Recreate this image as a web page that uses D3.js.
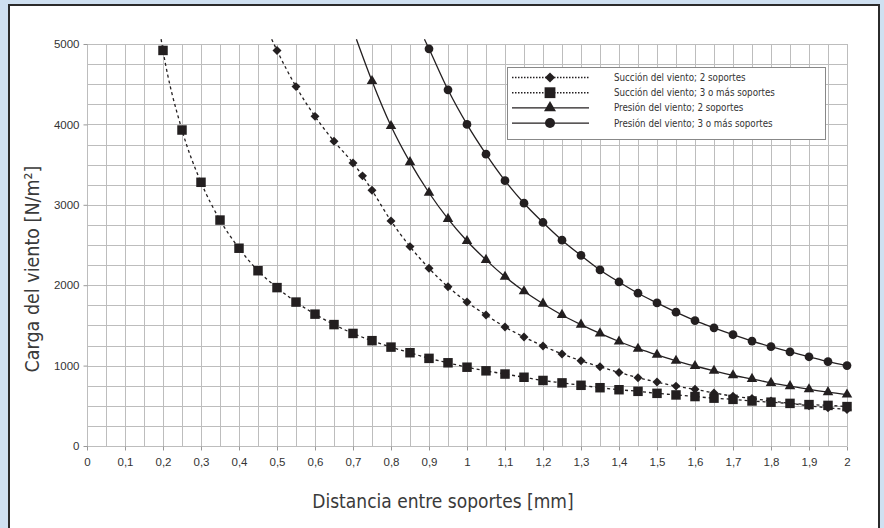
<!DOCTYPE html>
<html lang="es">
<head>
<meta charset="utf-8">
<script src="https://d3js.org/d3.v7.min.js"></script>
<style>
  body { margin: 0; background: #cfe0f1; }
  svg { display: block; }
  .tick-label { font-family: "Liberation Sans", Arial, sans-serif; font-size: 11.5px; fill: #333; }
  .axis-title { font-family: "Liberation Sans Narrow", "DejaVu Sans Condensed", sans-serif; fill: #3a3a3a; }
  .legend-text { font-family: "Liberation Sans Narrow", "DejaVu Sans Condensed", sans-serif; font-size: 9.7px; fill: #333; }
</style>
</head>
<body>
<svg id="chart" width="884" height="528"></svg>
<script>
// x positions (m) and wind load (N/m2)
var sqX = [0.2,0.25,0.3,0.35,0.4,0.45,0.5,0.55,0.6,0.65,0.7,0.75,0.8,0.85,0.9,0.95,1,1.05,1.1,1.15,1.2,1.25,1.3,1.35,1.4,1.45,1.5,1.55,1.6,1.65,1.7,1.75,1.8,1.85,1.9,1.95,2];
var sqY = [4920,3930,3280,2810,2460,2180,1970,1790,1640,1510,1400,1310,1230,1160,1090,1035,980,935,895,855,815,785,755,725,700,680,655,635,615,595,580,560,545,530,515,505,490];

var diaX = [0.5,0.55,0.6,0.65,0.7,0.725,0.75,0.8,0.85,0.9,0.95,1,1.05,1.1,1.15,1.2,1.25,1.3,1.35,1.4,1.45,1.5,1.55,1.6,1.65,1.7,1.75,1.8,1.85,1.9,1.95,2];
var diaY = [4920,4470,4100,3790,3520,3360,3180,2800,2480,2210,1980,1790,1630,1480,1355,1245,1145,1060,985,915,850,795,745,705,660,620,590,560,530,500,475,455];

var triX = [0.75,0.8,0.85,0.9,0.95,1,1.05,1.1,1.15,1.2,1.25,1.3,1.35,1.4,1.45,1.5,1.55,1.6,1.65,1.7,1.75,1.8,1.85,1.9,1.95,2];
var triY = [4540,3980,3530,3150,2825,2550,2315,2105,1925,1770,1630,1510,1400,1300,1210,1135,1060,995,935,880,835,785,745,705,670,640];

var cirX = [0.9,0.95,1,1.05,1.1,1.15,1.2,1.25,1.3,1.35,1.4,1.45,1.5,1.55,1.6,1.65,1.7,1.75,1.8,1.85,1.9,1.95,2];
var cirY = [4940,4430,4000,3630,3300,3020,2780,2560,2370,2190,2040,1900,1780,1665,1560,1470,1385,1305,1235,1170,1110,1050,1000];

// where each curve leaves the top of the grid
var topX = [0.486, 0.195, 0.709, 0.888];
var topY = 5060;

var seriesNames = ["Succión del viento; 2 soportes", "Succión del viento; 3 o más soportes",
                   "Presión del viento; 2 soportes", "Presión del viento; 3 o más soportes"];
var xTicks = [0,0.1,0.2,0.3,0.4,0.5,0.6,0.7,0.8,0.9,1,1.1,1.2,1.3,1.4,1.5,1.6,1.7,1.8,1.9,2];
var yTicks = [0,1000,2000,3000,4000,5000];

(function() {
  var svg = d3.select("#chart");
  var ink = "#231f20";

  // white panel with dark frame
  svg.append("rect").attr("x", 9).attr("y", 5).attr("width", 870).attr("height", 540)
    .attr("fill", "#fff").attr("stroke", "#2b2b2b").attr("stroke-width", 2);

  var pl = 87, pr = 847, pt = 44, pb = 446;
  var x = d3.scaleLinear().domain([0, 2]).range([pl, pr]);
  var y = d3.scaleLinear().domain([0, 5000]).range([pb, pt]);

  // grid
  var grid = svg.append("g").attr("stroke", "#bdbdbd").attr("stroke-width", 1);
  d3.range(0, 41).forEach(function(i) {
    var gx = Math.round(x(i * 0.05)) + 0.5;
    grid.append("line").attr("x1", gx).attr("x2", gx).attr("y1", pt).attr("y2", pb);
  });
  d3.range(0, 21).forEach(function(i) {
    var gy = Math.round(y(i * 250)) + 0.5;
    grid.append("line").attr("x1", pl).attr("x2", pr).attr("y1", gy).attr("y2", gy);
  });

  // axes
  var fmt = function(d) { return String(d).replace(".", ","); };
  var xAxis = svg.append("g").attr("transform", "translate(0," + (pb + 0.5) + ")")
    .call(d3.axisBottom(x).tickValues(xTicks).tickFormat(fmt).tickSize(4).tickPadding(7));
  var yAxis = svg.append("g").attr("transform", "translate(" + (pl + 0.5) + ",0)")
    .call(d3.axisLeft(y).tickValues(yTicks).tickFormat(d3.format("d")).tickSize(4).tickPadding(4));
  [xAxis, yAxis].forEach(function(a) {
    a.attr("font-family", null).attr("font-size", null);
    a.select(".domain").remove();
    a.selectAll(".tick line").attr("stroke", "#999");
    a.selectAll(".tick text").attr("class", "tick-label").attr("fill", null);
  });

  // axis titles
  svg.append("text").attr("class", "axis-title").attr("x", 443).attr("y", 508)
    .attr("text-anchor", "middle").style("font-size", "19px")
    .text("Distancia entre soportes [mm]");
  svg.append("text").attr("class", "axis-title")
    .attr("transform", "translate(39,269) rotate(-90)")
    .attr("text-anchor", "middle").style("font-size", "19.5px")
    .text("Carga del viento [N/m²]");

  // series, in legend order
  var series = [
    { xs: diaX, ys: diaY, dash: "3,3", sym: d3.symbolSquare, size: 40, rot: 45 },
    { xs: sqX, ys: sqY, dash: "3,3", sym: d3.symbolSquare, size: 90, rot: 0 },
    { xs: triX, ys: triY, dash: null, sym: d3.symbolTriangle, size: 48, rot: 0 },
    { xs: cirX, ys: cirY, dash: null, sym: d3.symbolCircle, size: 60, rot: 0 }
  ];

  var line = d3.line().x(function(d) { return x(d[0]); }).y(function(d) { return y(d[1]); })
    .curve(d3.curveMonotoneX);

  series.forEach(function(s, i) {
    var pts = s.xs.map(function(v, j) { return [v, s.ys[j]]; });
    var path = [[topX[i], topY]].concat(pts);
    svg.append("path").attr("d", line(path)).attr("fill", "none")
      .attr("stroke", ink).attr("stroke-width", 1.3)
      .attr("stroke-dasharray", s.dash);
    svg.append("g").selectAll("path").data(pts).join("path")
      .attr("d", d3.symbol().type(s.sym).size(s.size))
      .attr("transform", function(d) {
        return "translate(" + x(d[0]) + "," + y(d[1]) + ") rotate(" + s.rot + ")";
      })
      .attr("fill", ink);
  });

  // legend
  var lg = svg.append("g").attr("transform", "translate(507,67)");
  lg.append("rect").attr("x", 0.5).attr("y", 0.5).attr("width", 318).attr("height", 72)
    .attr("fill", "#fff").attr("stroke", "#888");
  series.forEach(function(s, i) {
    var ry = 10.5 + i * 15.2;
    lg.append("line").attr("x1", 5).attr("x2", 82).attr("y1", ry).attr("y2", ry)
      .attr("stroke", ink).attr("stroke-width", 1.4)
      .attr("stroke-dasharray", s.dash ? "1.5,1.5" : null);
    lg.append("path").attr("d", d3.symbol().type(s.sym).size(s.size * 1.3))
      .attr("transform", "translate(43," + ry + ") rotate(" + s.rot + ")")
      .attr("fill", ink);
    lg.append("text").attr("class", "legend-text").attr("x", 107).attr("y", ry + 3.5)
      .text(seriesNames[i]);
  });
})();
</script>
</body>
</html>
